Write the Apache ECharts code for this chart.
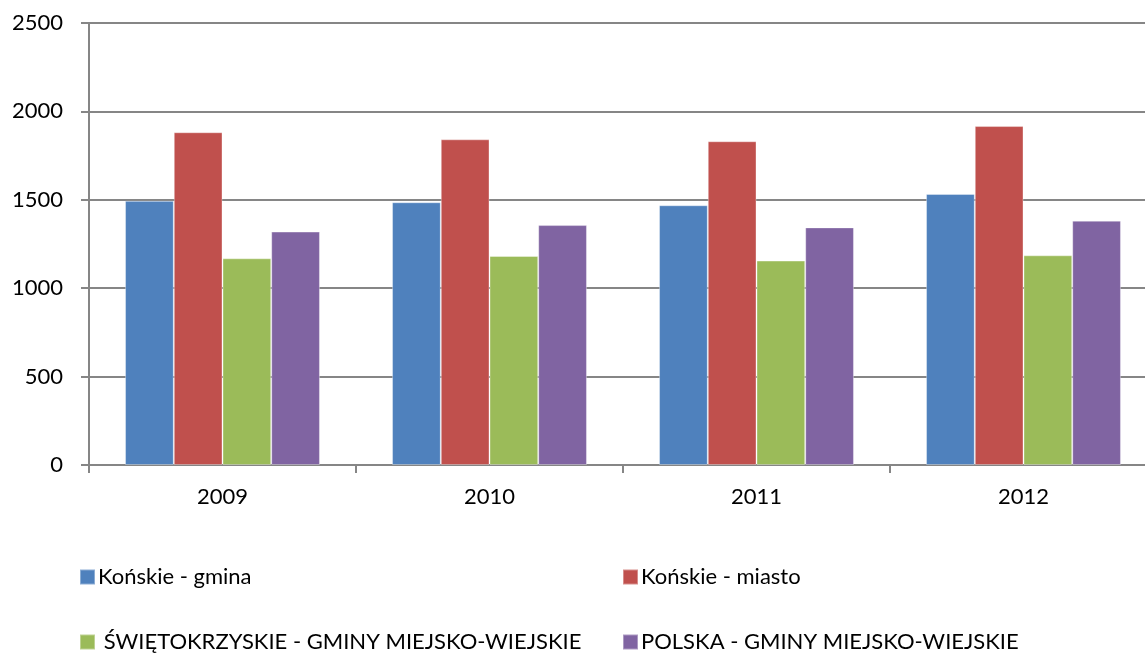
<!DOCTYPE html>
<html>
<head>
<meta charset="utf-8">
<script src="https://cdn.jsdelivr.net/npm/echarts@6/dist/echarts.min.js"></script>
<style>
  html, body { margin: 0; padding: 0; background: #fff; }
  #chart { width: 1145px; height: 657px; }
</style>
</head>
<body>
<div id="chart"></div>
<script>
const years = ['2009', '2010', '2011', '2012'];
const konskieGmina = [1494, 1486, 1469, 1533];
const konskieMiasto = [1882, 1842, 1831, 1917];
const swietokrzyskie = [1169, 1182, 1156, 1186];
const polska = [1320, 1357, 1344, 1382];
const yTicks = [0, 500, 1000, 1500, 2000, 2500];

const names = ['Końskie - gmina', 'Końskie - miasto', ' ŚWIĘTOKRZYSKIE - GMINY MIEJSKO-WIEJSKIE', 'POLSKA - GMINY MIEJSKO-WIEJSKIE'];
const colors = ['#4F81BD', '#C0504D', '#9BBB59', '#8064A2'];
const values = [konskieGmina, konskieMiasto, swietokrzyskie, polska];
const font = 'Lato, "Open Sans", sans-serif';

const chart = echarts.init(document.getElementById('chart'));

// legenda 2x2 - osobny komponent na każdą pozycję
const legendPos = [[79, 566], [622, 566], [79, 631], [622, 631]];
const legends = names.map((n, i) => ({
  data: [n],
  left: legendPos[i][0],
  top: legendPos[i][1],
  icon: 'rect',
  itemWidth: 15,
  itemHeight: 15,
  itemGap: 4,
  padding: 0,
  selectedMode: false,
  textStyle: { fontSize: 22, color: '#000', fontFamily: font, padding: [0, 0, 0, -2] }
}));

chart.setOption({
  animation: false,
  color: colors,
  legend: legends,
  // oś kategorii wychodzi poza prawą krawędź, jak w oryginale
  grid: { left: 89, width: 1068, top: 23, bottom: 192, containLabel: false, outerBoundsMode: 'none' },
  xAxis: {
    type: 'category',
    data: years,
    axisLine: { lineStyle: { color: '#868686', width: 2 } },
    axisTick: { show: true, length: 8, lineStyle: { color: '#868686', width: 2 } },
    axisLabel: { fontSize: 22, color: '#000', fontFamily: font, margin: 21 }
  },
  yAxis: {
    type: 'value',
    min: yTicks[0],
    max: yTicks[yTicks.length - 1],
    interval: yTicks[1] - yTicks[0],
    axisLine: { show: true, lineStyle: { color: '#868686', width: 2 } },
    axisTick: { show: true, length: 8, lineStyle: { color: '#868686', width: 2 } },
    axisLabel: { fontSize: 22, color: '#000', fontFamily: font, margin: 26, formatter: v => String(v) },
    splitLine: { lineStyle: { color: '#868686', width: 2 } }
  },
  series: values.map((v, i) => ({
    name: names[i],
    type: 'bar',
    data: v,
    barGap: '0%',
    barCategoryGap: '27%',
    itemStyle: { color: colors[i], borderColor: 'rgba(255,255,255,0.35)', borderWidth: 1 }
  }))
});
</script>
</body>
</html>
